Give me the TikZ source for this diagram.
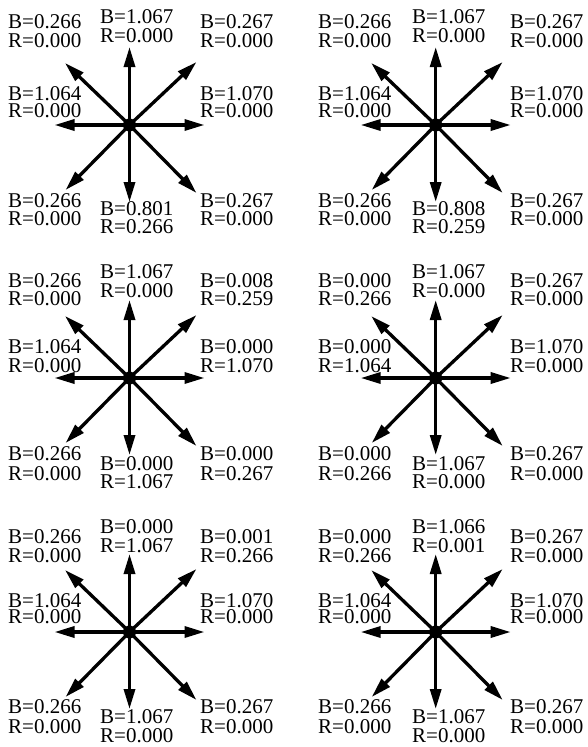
\documentclass[tikz,border=0pt]{standalone}
\usepackage{fontspec}
\setmainfont{Liberation Serif}
\usetikzlibrary{arrows.meta}
\tikzset{
  lab/.style={anchor=base west, inner sep=0pt, font=\fontsize{21}{21}\selectfont},
  vec/.style={line width=3.3pt, -{Triangle[length=20pt,width=11pt]}},
  hub/.style={circle, fill=black, inner sep=0pt, minimum size=13pt},
}
\newcommand{\mypanel}[3]{%
  \node[hub] (#1) at (#2,#3) {};
  \coordinate (#1n)  at (#2,#3-78);
  \coordinate (#1s)  at (#2,#3+77);
  \coordinate (#1e)  at (#2+75,#3);
  \coordinate (#1w)  at (#2-75,#3);
  \coordinate (#1ne) at (#2+67,#3-63);
  \coordinate (#1nw) at (#2-64.5,#3-62);
  \coordinate (#1sw) at (#2-64,#3+65);
  \coordinate (#1se) at (#2+67,#3+68);
  \foreach \dd in {n,s,e,w,ne,nw,sw,se} {\draw[vec] (#1.center) -- (#1\dd);}
}
\newcommand{\mylbl}[6]{%
  \node[lab] (#1b) at (#2,#3) {B=#5};
  \node[lab] (#1r) at (#2,#4) {R=#6};
}
\begin{document}
\begin{tikzpicture}[x=1pt,y=-1pt]
\useasboundingbox (0,0) rectangle (587,747);
% panels
\mypanel{pa}{129.5}{125}
\mypanel{pb}{435.7}{125}
\mypanel{pc}{129.5}{378}
\mypanel{pd}{435.7}{378}
\mypanel{pe}{129.5}{632}
\mypanel{pf}{435.7}{632}
% panel a (top left)
\mylbl{anw}{8}{28}{47}{0.266}{0.000}
\mylbl{an}{100}{23}{42}{1.067}{0.000}
\mylbl{ane}{200}{28}{47}{0.267}{0.000}
\mylbl{aw}{8}{100}{117}{1.064}{0.000}
\mylbl{ae}{200}{100}{117}{1.070}{0.000}
\mylbl{asw}{8}{207}{225}{0.266}{0.000}
\mylbl{as}{100}{215}{233}{0.801}{0.266}
\mylbl{ase}{200}{207}{225}{0.267}{0.000}
% panel b (top right)
\mylbl{bnw}{318}{28}{47}{0.266}{0.000}
\mylbl{bn}{412}{23}{42}{1.067}{0.000}
\mylbl{bne}{510}{28}{47}{0.267}{0.000}
\mylbl{bw}{318}{100}{117}{1.064}{0.000}
\mylbl{be}{510}{100}{117}{1.070}{0.000}
\mylbl{bsw}{318}{207}{225}{0.266}{0.000}
\mylbl{bs}{412}{215}{233}{0.808}{0.259}
\mylbl{bse}{510}{207}{225}{0.267}{0.000}
% panel c (middle left)
\mylbl{cnw}{8}{287}{305}{0.266}{0.000}
\mylbl{cn}{100}{278}{297}{1.067}{0.000}
\mylbl{cne}{200}{287}{305}{0.008}{0.259}
\mylbl{cw}{8}{353}{372}{1.064}{0.000}
\mylbl{ce}{200}{353}{372}{0.000}{1.070}
\mylbl{csw}{8}{460}{480}{0.266}{0.000}
\mylbl{cs}{100}{470}{488}{0.000}{1.067}
\mylbl{cse}{200}{460}{480}{0.000}{0.267}
% panel d (middle right)
\mylbl{dnw}{318}{287}{305}{0.000}{0.266}
\mylbl{dn}{412}{278}{297}{1.067}{0.000}
\mylbl{dne}{510}{287}{305}{0.267}{0.000}
\mylbl{dw}{318}{353}{372}{0.000}{1.064}
\mylbl{de}{510}{353}{372}{1.070}{0.000}
\mylbl{dsw}{318}{460}{480}{0.000}{0.266}
\mylbl{ds}{412}{470}{488}{1.067}{0.000}
\mylbl{dse}{510}{460}{480}{0.267}{0.000}
% panel e (bottom left)
\mylbl{enw}{8}{543}{562}{0.266}{0.000}
\mylbl{en}{100}{533}{552}{0.000}{1.067}
\mylbl{ene}{200}{543}{562}{0.001}{0.266}
\mylbl{ew}{8}{607}{623}{1.064}{0.000}
\mylbl{ee}{200}{607}{623}{1.070}{0.000}
\mylbl{esw}{8}{713}{733}{0.266}{0.000}
\mylbl{es}{100}{723}{742}{1.067}{0.000}
\mylbl{ese}{200}{713}{733}{0.267}{0.000}
% panel f (bottom right)
\mylbl{fnw}{318}{543}{562}{0.000}{0.266}
\mylbl{fn}{412}{533}{552}{1.066}{0.001}
\mylbl{fne}{510}{543}{562}{0.267}{0.000}
\mylbl{fw}{318}{607}{623}{1.064}{0.000}
\mylbl{fe}{510}{607}{623}{1.070}{0.000}
\mylbl{fsw}{318}{713}{733}{0.266}{0.000}
\mylbl{fs}{412}{723}{742}{1.067}{0.000}
\mylbl{fse}{510}{713}{733}{0.267}{0.000}
\end{tikzpicture}
\end{document}
